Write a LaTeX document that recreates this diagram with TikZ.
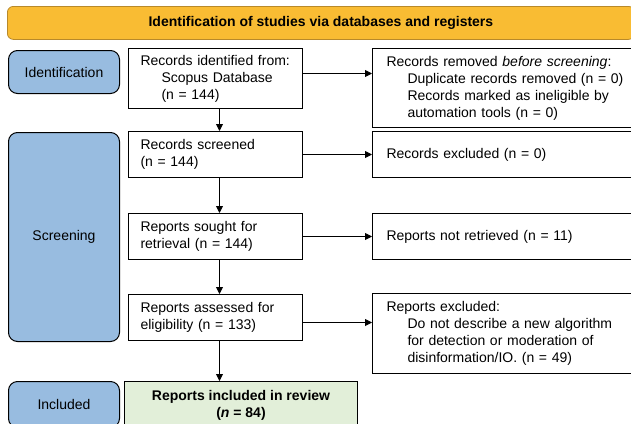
\documentclass[tikz,border=0pt]{standalone}
\usepackage{fontspec}
\setmainfont{Liberation Sans}
\usetikzlibrary{arrows.meta}
\definecolor{barfill}{HTML}{F9BC33}
\definecolor{barline}{HTML}{B8892A}
\definecolor{phasefill}{HTML}{98BCE0}
\definecolor{inclfill}{HTML}{E2EFD9}
\newcommand{\boxfont}{\fontsize{14}{17}\selectfont}
\newcommand{\ind}{\hspace*{21pt}}
\tikzset{
  phase/.style={draw, fill=phasefill, rounded corners=9pt, line width=1pt,
    anchor=north west, minimum width=111pt, font=\boxfont},
  mainbox/.style={draw, line width=1pt, anchor=north west, text width=150pt,
    inner xsep=12pt, inner ysep=0pt, align=left, font=\boxfont},
  sidebox/.style={draw, line width=1pt, anchor=north west, text width=245pt,
    inner xsep=14pt, inner ysep=0pt, align=left, font=\boxfont},
  flow/.style={->, line width=0.9pt},
  >={Triangle[length=7pt,width=7pt]}
}

\begin{document}
\begin{tikzpicture}[x=1pt,y=-1pt]
            \clip (0,0) rectangle (631,423);
            % title bar
            \node[draw=barline, fill=barfill, rounded corners=6pt, line width=0.8pt,
              anchor=north west, minimum width=627pt, minimum height=33pt,
              font=\boxfont\bfseries] (title) at (7,6)
              {Identification of studies via databases and registers};
            % phases
            \node[phase, minimum height=43pt] (ident) at (8,50) {Identification};
            \node[phase, minimum height=209pt] (screen) at (8,132) {Screening};
            \node[phase, minimum height=46pt] (incl) at (8,381) {Included};
            % left column
            \node[mainbox, minimum height=60pt] (recid) at (128,48)
              {Records identified from:\\ \ind Scopus Database\\ \ind (n = 144)};
            \node[mainbox, minimum height=46pt] (recscr) at (128,131)
              {Records screened\\ (n = 144)};
            \node[mainbox, minimum height=46pt] (repsou) at (128,213)
              {Reports sought for\\ retrieval (n = 144)};
            \node[mainbox, minimum height=46pt] (repass) at (128,294)
              {Reports assessed for\\ eligibility (n = 133)};
            \node[draw, fill=inclfill, line width=1pt, anchor=north west,
              minimum width=233pt, minimum height=48pt, align=center,
              font=\boxfont\bfseries] (repinc) at (124,381)
              {Reports included in review\\ (\textit{n} = 84)};
            % right column
            \node[sidebox, minimum height=79pt] (recrem) at (372,48)
              {Records removed \textit{before screening}:\\
               \ind Duplicate records removed (n = 0)\\
               \ind Records marked as ineligible by\\
               \ind automation tools (n = 0)};
            \node[sidebox, minimum height=46pt] (recexc) at (372,131)
              {Records excluded (n = 0)};
            \node[sidebox, minimum height=46pt] (repnot) at (372,213)
              {Reports not retrieved (n = 11)};
            \node[sidebox, minimum height=80pt] (repexc) at (372,293)
              {Reports excluded:\\
               \ind Do not describe a new algorithm\\
               \ind for detection or moderation of\\
               \ind disinformation/IO. (n = 49)};
            % arrows
            \draw[flow] ([yshift=5pt]recid.east) -- ([yshift=5pt]recid.east -| recrem.west);
            \draw[flow] (recscr.east) -- (recexc.west);
            \draw[flow] (repsou.east) -- (repnot.west);
            \draw[flow] ([yshift=-5pt]repass.east) -- ([yshift=-5pt]repass.east -| repexc.west);
            \draw[flow] ([xshift=4pt]recid.south) -- ([xshift=4pt]recscr.north);
            \draw[flow] ([xshift=4pt]recscr.south) -- ([xshift=4pt]repsou.north);
            \draw[flow] ([xshift=4pt]repsou.south) -- ([xshift=4pt]repass.north);
            \draw[flow] ([xshift=4pt]repass.south) -- ([xshift=4pt]repass.south |- repinc.north);
        \end{tikzpicture}
\end{document}
